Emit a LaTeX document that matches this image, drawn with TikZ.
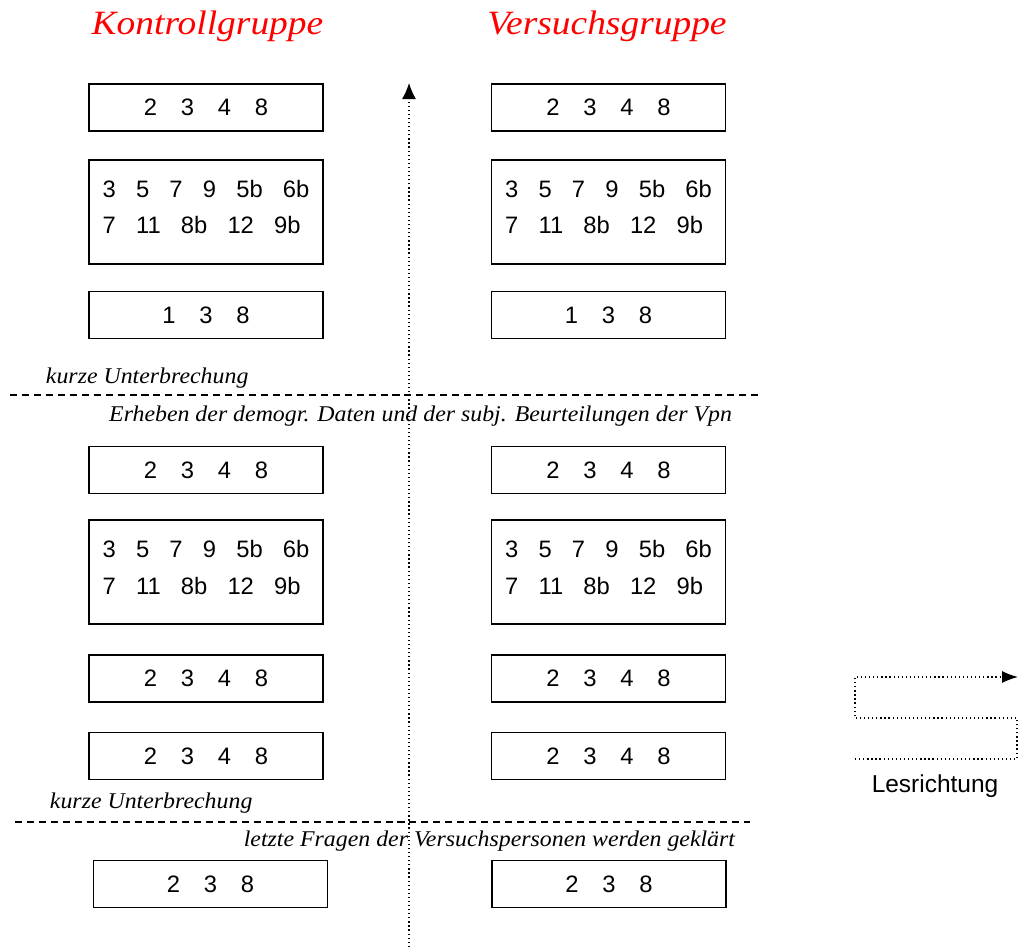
\documentclass[tikz,border=0pt]{standalone}
\usepackage{fontspec}
\setmainfont{Liberation Sans}
\newfontfamily\notefont[FakeStretch=1.06]{Liberation Serif Italic}
\newfontfamily\titlefont[FakeStretch=1.1]{Liberation Serif Italic}
\usetikzlibrary{arrows.meta}

\newcommand{\gap}{\hspace{1em}}
\newcommand{\sgap}{\hspace{0.85em}}
\newcommand{\numfont}{\fontsize{16.9pt}{26.2pt}\selectfont}

\begin{document}
\begin{tikzpicture}[x=0.025cm, y=-0.025cm,
  numbox/.style={draw, line width=1.3pt, minimum width=5.85cm, minimum height=1.175cm, inner sep=0pt, font=\numfont},
  bigbox/.style={numbox, minimum height=2.6cm},
  numtext/.style={align=left, inner sep=0pt, font=\numfont},
  grouptitle/.style={red, anchor=base, font={\titlefont\fontsize{24.2pt}{28pt}\selectfont}},
  note/.style={font={\notefont\fontsize{16pt}{19pt}\selectfont}},
  pause/.style={dash pattern=on 5pt off 3.5pt, line width=0.8pt},
  readline/.style={dotted, line width=0.9pt}]

\useasboundingbox (0,0) rectangle (1018,947);

% Group titles
\node[grouptitle] (ktitle) at (207.5,34) {Kontrollgruppe};
\node[grouptitle] (vtitle) at (607,34) {Versuchsgruppe};

% First block
\node[numbox] (k1) at (206,107.5) {2\gap 3\gap 4\gap 8};
\node[numbox] (v1) at (608.5,107.5) {2\gap 3\gap 4\gap 8};
\node[bigbox] (k2) at (206,212) {};
\node[numtext, yshift=3.5pt] (k2t) at (k2.center) {3\sgap 5\sgap 7\sgap 9\sgap 5b\sgap 6b\\7\sgap 11\sgap 8b\sgap 12\sgap 9b};
\node[bigbox] (v2) at (608.5,212) {};
\node[numtext, yshift=3.5pt] (v2t) at (v2.center) {3\sgap 5\sgap 7\sgap 9\sgap 5b\sgap 6b\\7\sgap 11\sgap 8b\sgap 12\sgap 9b};
\node[numbox] (k3) at (206,315) {1\gap 3\gap 8};
\node[numbox] (v3) at (608.5,315) {1\gap 3\gap 8};

% First break
\node[note, anchor=base west] (pause1) at (41,383) {kurze Unterbrechung};
\coordinate (p1l) at (10,395);
\coordinate (p1r) at (758,395);
\draw[pause] (p1l) -- (p1r);
\node[note, anchor=base east] (demo) at (737,421) {Erheben der demogr. Daten und der subj. Beurteilungen der Vpn};

% Second block
\node[numbox] (k4) at (206,470) {2\gap 3\gap 4\gap 8};
\node[numbox] (v4) at (608.5,470) {2\gap 3\gap 4\gap 8};
\node[bigbox] (k5) at (206,572) {};
\node[numtext, yshift=3.5pt] (k5t) at (k5.center) {3\sgap 5\sgap 7\sgap 9\sgap 5b\sgap 6b\\7\sgap 11\sgap 8b\sgap 12\sgap 9b};
\node[bigbox] (v5) at (608.5,572) {};
\node[numtext, yshift=3.5pt] (v5t) at (v5.center) {3\sgap 5\sgap 7\sgap 9\sgap 5b\sgap 6b\\7\sgap 11\sgap 8b\sgap 12\sgap 9b};
\node[numbox] (k6) at (206,678.5) {2\gap 3\gap 4\gap 8};
\node[numbox] (v6) at (608.5,678.5) {2\gap 3\gap 4\gap 8};
\node[numbox] (k7) at (206,756) {2\gap 3\gap 4\gap 8};
\node[numbox] (v7) at (608.5,756) {2\gap 3\gap 4\gap 8};

% Second break
\node[note, anchor=base west] (pause2) at (45,808) {kurze Unterbrechung};
\coordinate (p2l) at (15,822);
\coordinate (p2r) at (750,822);
\draw[pause] (p2l) -- (p2r);
\node[note, anchor=base east] (quest) at (740,846) {letzte Fragen der Versuchspersonen werden geklärt};

% Last block
\node[numbox] (k8) at (210.5,884) {2\gap 3\gap 8};
\node[numbox] (v8) at (609,884) {2\gap 3\gap 8};

% Time axis
\coordinate (axisbot) at (409,947);
\coordinate (axistop) at (409,83);
\draw[readline, -{Latex[length=0.4cm, width=0.35cm]}] (axisbot) -- (axistop);

% Reading direction
\coordinate (r1) at (855,759);
\coordinate (r2) at (1017,759);
\coordinate (r3) at (1017,718);
\coordinate (r4) at (855,718);
\coordinate (r5) at (855,677);
\coordinate (r6) at (1018,677);
\draw[readline, -{Latex[length=0.4cm, width=0.3cm]}] (r1) -- (r2) -- (r3) -- (r4) -- (r5) -- (r6);
\node[anchor=base, font={\fontsize{17.4pt}{20pt}\selectfont}] (lesen) at (935,792) {Lesrichtung};

\end{tikzpicture}
\end{document}
